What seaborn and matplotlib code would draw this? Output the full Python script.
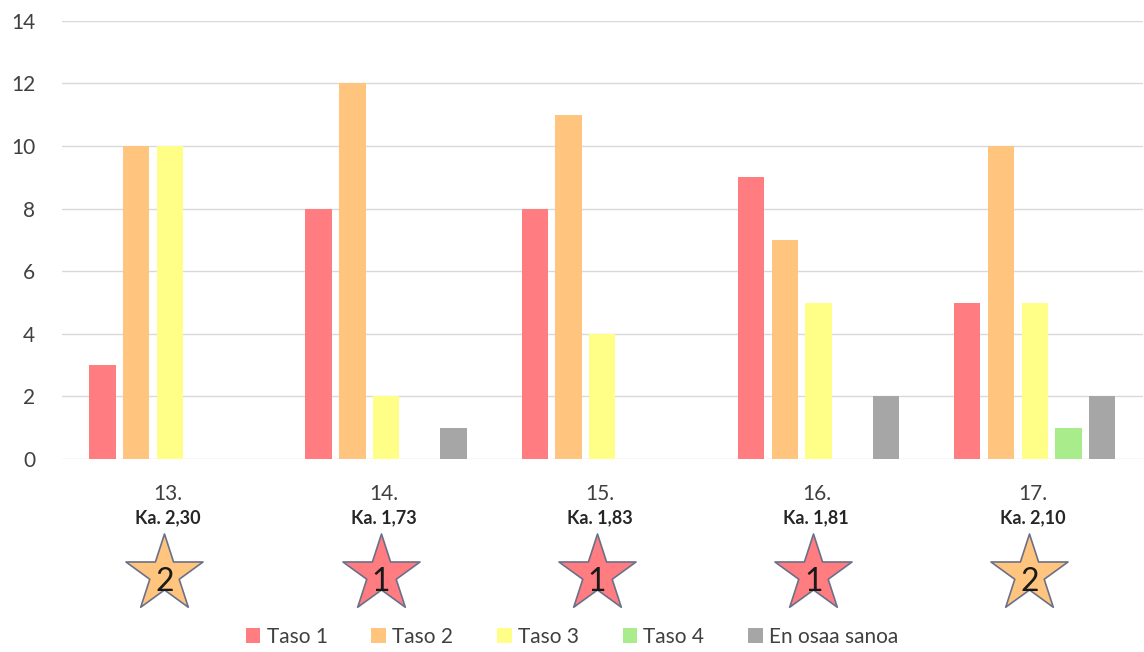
import matplotlib
matplotlib.use("Agg")
import matplotlib.pyplot as plt
import seaborn as sns
import pandas as pd

# Survey items and response counts per level
questions = ["13.", "14.", "15.", "16.", "17."]
levels = ["Taso 1", "Taso 2", "Taso 3", "Taso 4", "En osaa sanoa"]
taso1 = [3, 8, 8, 9, 5]
taso2 = [10, 12, 11, 7, 10]
taso3 = [10, 2, 4, 5, 5]
taso4 = [0, 0, 0, 0, 1]
en_osaa = [0, 1, 0, 2, 2]
averages = ["Ka. 2,30", "Ka. 1,73", "Ka. 1,83", "Ka. 1,81", "Ka. 2,10"]
star_levels = [2, 1, 1, 1, 2]

colors = ["#FF7C80", "#FFC57F", "#FFFF88", "#A9EC8C", "#A6A6A6"]

rows = []
for lvl, vals in zip(levels, [taso1, taso2, taso3, taso4, en_osaa]):
    for q, v in zip(questions, vals):
        rows.append({"Kysymys": q, "Taso": lvl, "Lukumäärä": v})
df = pd.DataFrame(rows)

sns.set_theme(style="white")
plt.rcParams["font.family"] = ["Lato", "DejaVu Sans"]

fig = plt.figure(figsize=(11.44, 6.52), dpi=100)
ax = fig.add_axes([0.054, 0.296, 0.945, 0.672])

sns.barplot(data=df, x="Kysymys", y="Lukumäärä", hue="Taso",
            order=questions, hue_order=levels, palette=colors,
            width=0.78, gap=0.22, linewidth=0, saturation=1,
            legend=True, ax=ax)

ax.set_ylim(0, 14)
ax.set_xlim(-0.5, 4.5)
ax.set_yticks(range(0, 15, 2))
ax.yaxis.grid(True, color="#D9D9D9", linewidth=1.0)
ax.set_axisbelow(True)
for s in ax.spines.values():
    s.set_visible(False)
ax.set_xlabel("")
ax.set_ylabel("")
ax.tick_params(axis="y", labelsize=15, colors="#404040", pad=19, length=0)
ax.set_xticks(range(len(questions)))
ax.set_xticklabels([])
ax.tick_params(axis="x", length=0)

trans = ax.get_xaxis_transform()
for i, (q, avg, lv) in enumerate(zip(questions, averages, star_levels)):
    ax.text(i - 0.01, -0.08, q, transform=trans, ha="center", va="center",
            fontsize=15, color="#404040", clip_on=False)
    ax.text(i - 0.01, -0.135, avg, transform=trans, ha="center", va="center",
            fontsize=13, fontweight="bold", color="#262626", clip_on=False)
    ax.scatter([i - 0.025], [-0.262], transform=trans, marker="*", s=3400,
               color=colors[lv - 1], edgecolor="#6B7089", linewidth=1.2,
               clip_on=False, zorder=5)
    ax.text(i - 0.025, -0.28, str(lv), transform=trans, ha="center",
            va="center", fontsize=23, color="#1a1a1a", clip_on=False, zorder=6)

handles, labels = ax.get_legend_handles_labels()
ax.legend_.remove()
fig.legend(handles, labels, loc="center", bbox_to_anchor=(0.5, 0.023),
           ncol=5, frameon=False, fontsize=15, handlelength=0.7,
           handleheight=0.7, handletextpad=0.3, columnspacing=2.1,
           labelcolor="#404040")

fig.savefig("out.png", dpi=100)
